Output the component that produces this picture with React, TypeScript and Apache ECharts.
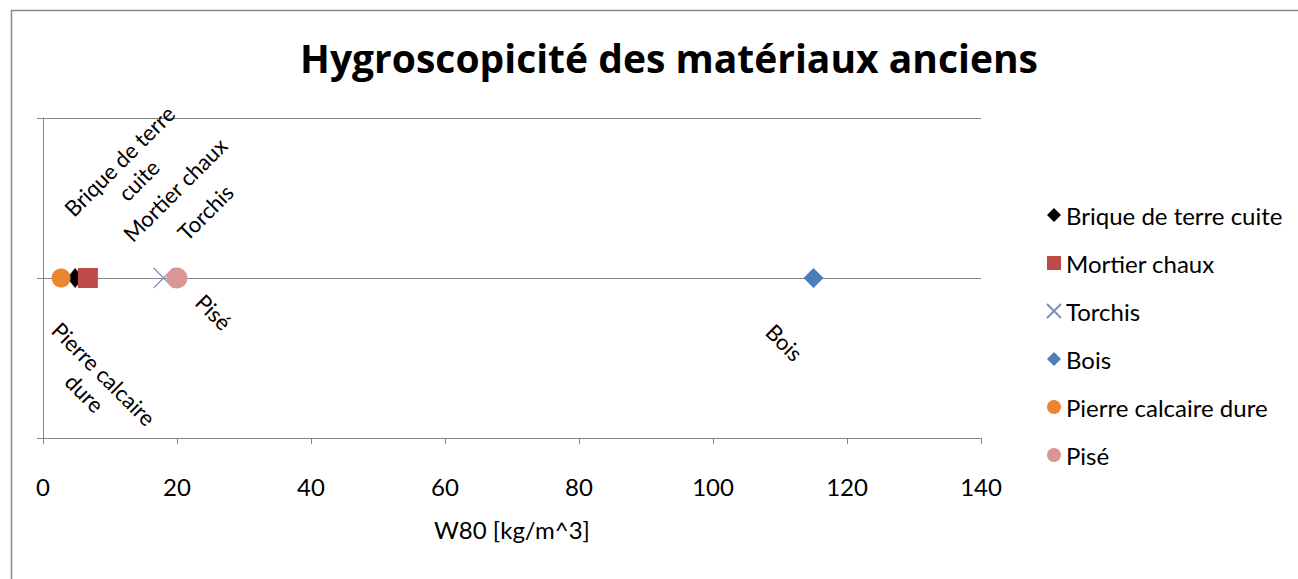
import React, { useEffect, useRef } from 'react';
import * as echarts from 'echarts';

const materials = ['Brique de terre cuite', 'Mortier chaux', 'Torchis', 'Bois', 'Pierre calcaire dure', 'Pisé'];
const w80Values = [4.8, 6.7, 18, 115, 2.7, 20];
const yValues = [0, 0, 0, 0, 0, 0];
const pointLabels = ['Brique de terre\ncuite', 'Mortier chaux', 'Torchis', 'Bois', 'Pierre calcaire\ndure', 'Pisé'];
const xTicks = [0, 20, 40, 60, 80, 100, 120, 140];
const titleText = 'Hygroscopicité des matériaux anciens';
const xAxisName = 'W80 [kg/m^3]';

const FONT = 'Lato, "Open Sans", sans-serif';
const TITLE_FONT = '"Open Sans", Lato, sans-serif';

const seriesStyles = [
  { color: '#000000', symbol: 'diamond', size: [16, 20], rotate: 45, offset: [114, -38], stroke: false },
  { color: '#BE4B48', symbol: 'rect', size: [20, 20], rotate: 45, offset: [124, -1], stroke: false },
  { color: '#7F90B8', symbol: 'path://M0,0L10,10M10,0L0,10', size: [20, 20], rotate: 45, offset: [76, -17], stroke: true },
  { color: '#4A7EBB', symbol: 'diamond', size: [20, 20], rotate: -45, offset: [25, 66], stroke: false },
  { color: '#EC8530', symbol: 'circle', size: [19, 19], rotate: -45, offset: [98, 51], stroke: false },
  { color: '#D99694', symbol: 'circle', size: [21, 21], rotate: -45, offset: [50, -2], stroke: false },
];

export default function App() {
  const ref = useRef<HTMLDivElement>(null);
  useEffect(() => {
    document.body.style.margin = '0';
    const chart = echarts.init(ref.current!, null, { renderer: 'svg' });
    const series = materials.map((name, i) => {
      const st = seriesStyles[i];
      return {
        name,
        type: 'scatter',
        symbol: st.symbol,
        symbolSize: st.size,
        itemStyle: st.stroke
          ? { color: 'rgba(0,0,0,0)', borderColor: st.color, borderWidth: 1.2, opacity: 1 }
          : { color: st.color, opacity: 1 },
        data: [[w80Values[i], yValues[i]]],
        label: {
          show: true,
          formatter: pointLabels[i],
          position: 'inside',
          align: 'center',
          verticalAlign: 'middle',
          rotate: st.rotate,
          offset: st.offset,
          fontFamily: FONT,
          fontSize: 22,
          lineHeight: 27,
          color: '#000',
        },
        z: 3 + i,
      };
    });
    chart.setOption({
      animation: false,
      backgroundColor: '#fff',
      title: {
        text: titleText,
        left: 664,
        top: 33,
        textAlign: 'center',
        textStyle: { fontFamily: TITLE_FONT, fontSize: 39, fontWeight: 'bold', color: '#000' },
      },
      legend: {
        orient: 'vertical',
        left: 1041,
        top: 196,
        itemWidth: 14,
        itemHeight: 14,
        itemGap: 20,
        textStyle: { fontFamily: FONT, fontSize: 24, color: '#000', lineHeight: 28 },
        data: materials,
      },
      grid: { left: 43, right: 317, top: 118, bottom: 141 },
      xAxis: {
        type: 'value',
        min: xTicks[0],
        max: xTicks[xTicks.length - 1],
        interval: xTicks[1] - xTicks[0],
        name: xAxisName,
        nameLocation: 'middle',
        nameGap: 79,
        nameTextStyle: { fontFamily: FONT, fontSize: 24, color: '#000' },
        axisLine: { show: true, onZero: false, lineStyle: { color: '#868686', width: 1 } },
        axisTick: { show: true, length: 6, lineStyle: { color: '#868686' } },
        axisLabel: { margin: 36, fontFamily: FONT, fontSize: 24, color: '#000' },
        splitLine: { show: false },
      },
      yAxis: {
        type: 'value',
        min: -1,
        max: 1,
        interval: 1,
        axisLine: { show: true, onZero: false, lineStyle: { color: '#868686', width: 1 } },
        axisTick: { show: true, length: 6, lineStyle: { color: '#868686' } },
        axisLabel: { show: false },
        splitLine: { show: true, lineStyle: { color: '#868686', width: 1 } },
      },
      graphic: [
        {
          type: 'rect',
          left: 9,
          top: 8,
          shape: { x: 0, y: 0, width: 1400, height: 700 },
          style: { fill: 'none', stroke: '#8a8a8a', lineWidth: 1.5 },
          silent: true,
          z: -1,
        },
      ],
      series,
    });
    return () => chart.dispose();
  }, []);
  return <div ref={ref} style={{ width: 1298, height: 579 }} />;
}
